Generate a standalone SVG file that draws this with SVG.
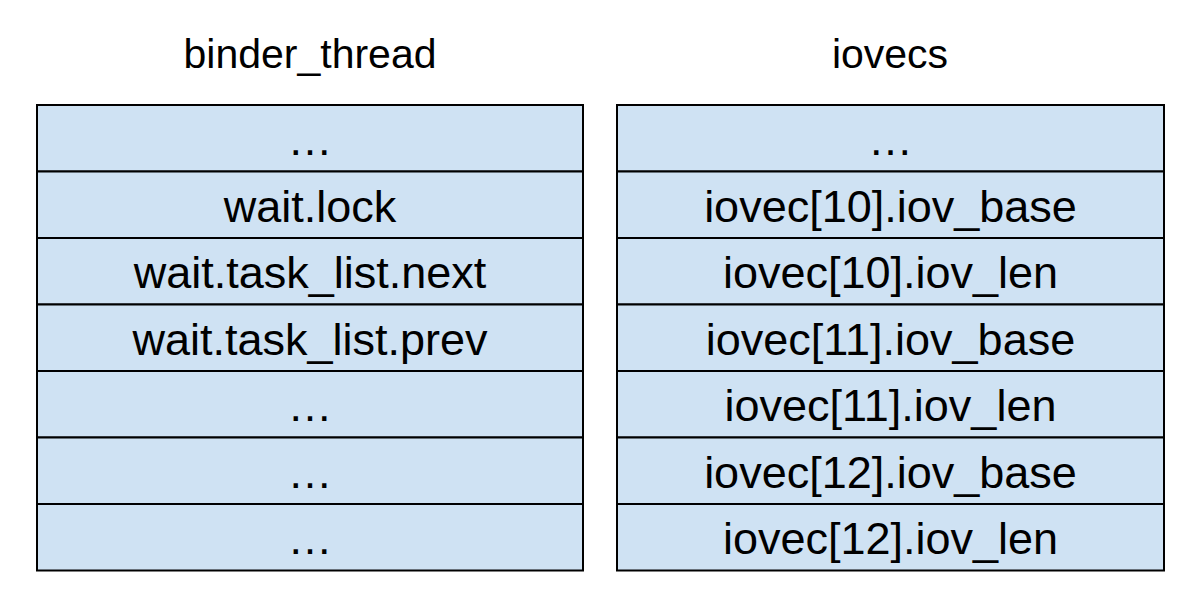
<svg xmlns="http://www.w3.org/2000/svg" width="1200" height="607" viewBox="0 0 1200 607">
<style>
.cell{fill:#cfe2f3;stroke:#000;stroke-width:2}
.t{font-family:"Liberation Sans",Arial,sans-serif;font-size:45px;fill:#000;text-anchor:middle}
.h{font-family:"Liberation Sans",Arial,sans-serif;font-size:41px;fill:#000;text-anchor:middle}
</style>
<rect width="1200" height="607" fill="#fff"/>
<g id="binder_thread">
<text class="h" x="310" y="68">binder_thread</text>
<rect class="cell" x="37" y="105" width="546" height="66.5"/>
<rect class="cell" x="37" y="171.5" width="546" height="66.5"/>
<rect class="cell" x="37" y="238" width="546" height="66.5"/>
<rect class="cell" x="37" y="304.5" width="546" height="66.5"/>
<rect class="cell" x="37" y="371" width="546" height="66.5"/>
<rect class="cell" x="37" y="437.5" width="546" height="66.5"/>
<rect class="cell" x="37" y="504" width="546" height="66.5"/>
<text class="t" x="310" y="155">…</text>
<text class="t" x="310" y="222">wait.lock</text>
<text class="t" x="310" y="288">wait.task_list.next</text>
<text class="t" x="310" y="355">wait.task_list.prev</text>
<text class="t" x="310" y="421">…</text>
<text class="t" x="310" y="488">…</text>
<text class="t" x="310" y="554">…</text>
</g>
<g id="iovecs">
<text class="h" x="890" y="68">iovecs</text>
<rect class="cell" x="617" y="105" width="547" height="66.5"/>
<rect class="cell" x="617" y="171.5" width="547" height="66.5"/>
<rect class="cell" x="617" y="238" width="547" height="66.5"/>
<rect class="cell" x="617" y="304.5" width="547" height="66.5"/>
<rect class="cell" x="617" y="371" width="547" height="66.5"/>
<rect class="cell" x="617" y="437.5" width="547" height="66.5"/>
<rect class="cell" x="617" y="504" width="547" height="66.5"/>
<text class="t" x="890.5" y="155">…</text>
<text class="t" x="890.5" y="222">iovec[10].iov_base</text>
<text class="t" x="890.5" y="288">iovec[10].iov_len</text>
<text class="t" x="890.5" y="355">iovec[11].iov_base</text>
<text class="t" x="890.5" y="421">iovec[11].iov_len</text>
<text class="t" x="890.5" y="488">iovec[12].iov_base</text>
<text class="t" x="890.5" y="554">iovec[12].iov_len</text>
</g>
<g id="connectors"></g>
</svg>
